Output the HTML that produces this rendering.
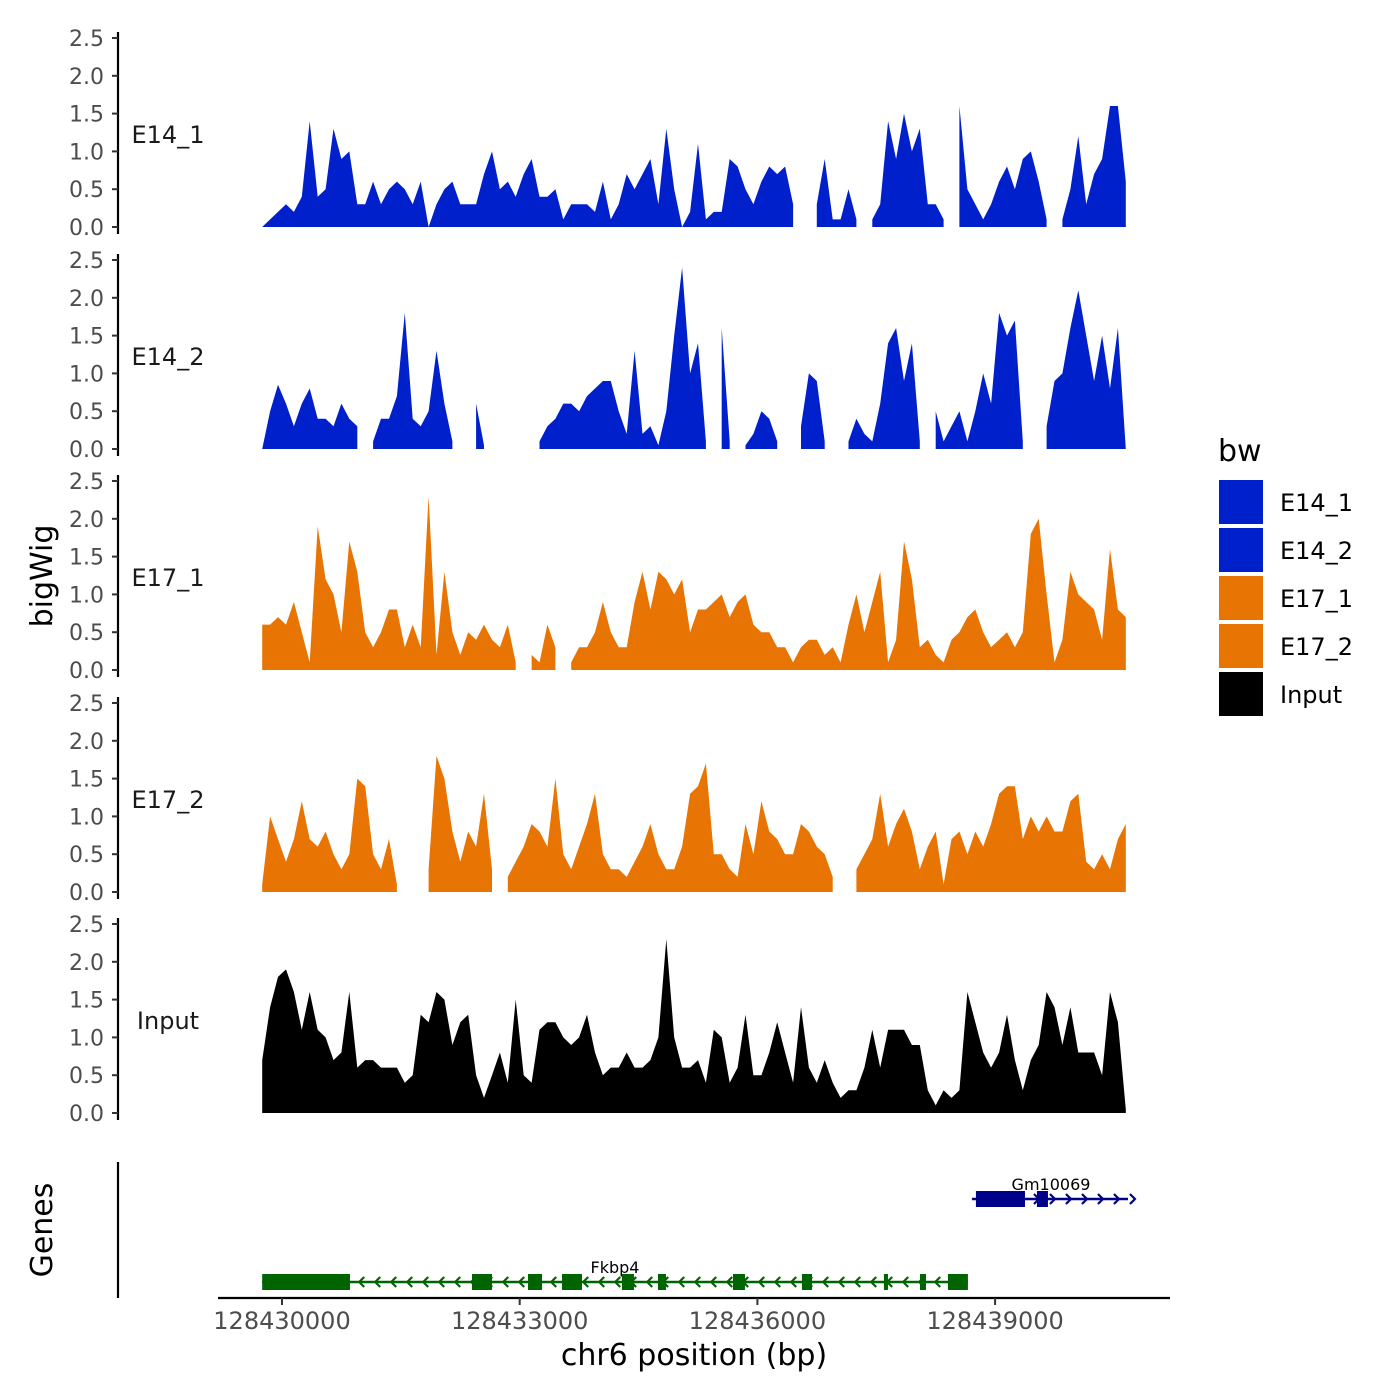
<!DOCTYPE html>
<html><head><meta charset="utf-8"><style>
html,body{margin:0;padding:0;background:#fff;}
svg{display:block;font-family:"DejaVu Sans","Liberation Sans",sans-serif;}
</style></head><body>
<svg id="chart" width="1400" height="1400" viewBox="0 0 1400 1400" xmlns="http://www.w3.org/2000/svg">
<rect width="1400" height="1400" fill="#fff"/>
<g id="panels"></g>
<g id="genes"></g>
<text x="0" y="0" transform="translate(52,576) rotate(-90)" text-anchor="middle" font-size="30" fill="#000">bigWig</text>
<text x="0" y="0" transform="translate(52,1230) rotate(-90)" text-anchor="middle" font-size="30" fill="#000">Genes</text>
<text x="694" y="1365" text-anchor="middle" font-size="30" fill="#000">chr6 position (bp)</text>
<g id="legend">
<text x="1218" y="461" font-size="30" fill="#000">bw</text>
</g>
</svg>
<script>
const startBp = 128429750, stepBp = 100;
const xTicks = [128430000,128433000,128436000,128439000];
const yTicks = [0,0.5,1,1.5,2,2.5];
const trackNames = ["E14_1","E14_2","E17_1","E17_2","Input"];
const trackColors = ["#0020CC","#0020CC","#E87503","#E87503","#000000"];
const N = null;
const e14_1 = [0,0.1,0.2,0.3,0.2,0.4,1.4,0.4,0.5,1.3,0.9,1.0,0.3,0.3,0.6,0.3,0.5,0.6,0.5,0.3,0.6,0.0,0.3,0.5,0.6,0.3,0.3,0.3,0.7,1.0,0.5,0.6,0.4,0.7,0.9,0.4,0.4,0.5,0.1,0.3,0.3,0.3,0.2,0.6,0.1,0.3,0.7,0.5,0.7,0.9,0.3,1.3,0.5,0.0,0.2,1.1,0.1,0.2,0.2,0.9,0.8,0.5,0.3,0.6,0.8,0.7,0.8,0.3,N,N,0.3,0.9,0.1,0.1,0.5,0.1,N,0.1,0.3,1.4,0.9,1.5,1.0,1.3,0.3,0.3,0.1,N,1.6,0.5,0.3,0.1,0.3,0.6,0.8,0.5,0.9,1.0,0.6,0.1,N,0.1,0.5,1.2,0.3,0.7,0.9,1.6,1.6,0.6];
const e14_2 = [0,0.5,0.85,0.6,0.3,0.6,0.8,0.4,0.4,0.3,0.6,0.4,0.3,N,0.1,0.4,0.4,0.7,1.8,0.4,0.3,0.5,1.3,0.6,0.1,N,N,0.6,0.05,N,N,N,N,N,N,0.1,0.3,0.4,0.6,0.6,0.5,0.7,0.8,0.9,0.9,0.5,0.2,1.3,0.2,0.3,0.05,0.5,1.5,2.4,1.0,1.4,0.1,N,1.6,0.1,N,0.05,0.2,0.5,0.4,0.1,N,N,0.3,1.0,0.9,0.1,N,N,0.1,0.4,0.2,0.1,0.6,1.4,1.6,0.9,1.4,0.1,N,0.5,0.1,0.3,0.5,0.1,0.5,1.0,0.6,1.8,1.5,1.7,0.1,N,N,0.3,0.9,1.0,1.6,2.1,1.5,0.9,1.5,0.8,1.6,0];
const e17_1 = [0.6,0.6,0.7,0.6,0.9,0.5,0.1,1.9,1.2,1.0,0.5,1.7,1.3,0.5,0.3,0.5,0.8,0.8,0.3,0.6,0.3,2.3,0.2,1.3,0.5,0.2,0.5,0.4,0.6,0.4,0.3,0.6,0.1,N,0.2,0.1,0.6,0.3,N,0.1,0.3,0.3,0.5,0.9,0.5,0.3,0.3,0.9,1.3,0.8,1.3,1.2,1.0,1.2,0.5,0.8,0.8,0.9,1.0,0.7,0.9,1.0,0.6,0.5,0.5,0.3,0.3,0.1,0.3,0.4,0.4,0.2,0.3,0.1,0.6,1.0,0.5,0.9,1.3,0.1,0.4,1.7,1.2,0.3,0.4,0.2,0.1,0.4,0.5,0.7,0.8,0.5,0.3,0.4,0.5,0.3,0.5,1.8,2.0,1.0,0.1,0.4,1.3,1.0,0.9,0.8,0.4,1.6,0.8,0.7];
const e17_2 = [0.1,1.0,0.7,0.4,0.7,1.2,0.7,0.6,0.8,0.5,0.3,0.5,1.5,1.4,0.5,0.3,0.7,0.1,N,N,N,0.3,1.8,1.5,0.8,0.4,0.8,0.6,1.3,0.3,N,0.2,0.4,0.6,0.9,0.8,0.6,1.5,0.5,0.3,0.6,0.9,1.3,0.5,0.3,0.3,0.2,0.4,0.6,0.9,0.5,0.3,0.3,0.6,1.3,1.4,1.7,0.5,0.5,0.3,0.2,0.9,0.5,1.2,0.8,0.7,0.5,0.5,0.9,0.8,0.6,0.5,0.2,N,N,0.3,0.5,0.7,1.3,0.6,0.9,1.1,0.8,0.3,0.6,0.8,0.1,0.7,0.8,0.5,0.8,0.6,0.9,1.3,1.4,1.4,0.7,1.0,0.8,1.0,0.8,0.8,1.2,1.3,0.4,0.3,0.5,0.3,0.7,0.9];
const input = [0.7,1.4,1.8,1.9,1.6,1.1,1.6,1.1,1.0,0.7,0.8,1.6,0.6,0.7,0.7,0.6,0.6,0.6,0.4,0.5,1.3,1.2,1.6,1.5,0.9,1.2,1.3,0.5,0.2,0.5,0.8,0.4,1.5,0.5,0.4,1.1,1.2,1.2,1.0,0.9,1.0,1.3,0.8,0.5,0.6,0.6,0.8,0.6,0.6,0.7,1.0,2.3,1.0,0.6,0.6,0.7,0.4,1.1,1.0,0.4,0.6,1.3,0.5,0.5,0.8,1.2,0.8,0.4,1.4,0.6,0.4,0.7,0.4,0.2,0.3,0.3,0.6,1.1,0.6,1.1,1.1,1.1,0.9,0.9,0.3,0.1,0.3,0.2,0.3,1.6,1.2,0.8,0.6,0.8,1.3,0.7,0.3,0.7,0.9,1.6,1.4,0.9,1.4,0.8,0.8,0.8,0.5,1.6,1.2,0.05];
const seriesList = [e14_1,e14_2,e17_1,e17_2,input];
const geneNames = ["Fkbp4","Gm10069"];
const geneStart = [128429750,128438708];
const geneEnd = [128438657,128440677];
const geneStrand = [-1,1];
const fkbp4ExonStart = [128429750,128432398,128433105,128433534,128434291,128434745,128435692,128436562,128437597,128438052,128438405];
const fkbp4ExonEnd = [128430858,128432650,128433282,128433786,128434442,128434846,128435843,128436689,128437648,128438128,128438657];
const gmExonStart = [128438758,128439528];
const gmExonEnd = [128439377,128439667];

const NS="http://www.w3.org/2000/svg";
function mk(tag,attrs,parent){const e=document.createElementNS(NS,tag);for(const k in attrs)e.setAttribute(k,attrs[k]);parent.appendChild(e);return e;}
const xScale = bp => 282 + (bp-128430000)*(237.7/3000);
const baselines=[227,449,670,892,1113];
const pxPerUnit=75.6;
const panels=document.getElementById('panels');
trackNames.forEach((name,t)=>{
  const g=mk('g',{},panels);
  
  
  const b=baselines[t];
  const yS=v=>b-v*pxPerUnit;
  const data=seriesList[t];
  let seg=[];
  const segs=[];
  data.forEach((v,i)=>{ if(v===null){ if(seg.length)segs.push(seg); seg=[]; } else seg.push([xScale(startBp+i*stepBp),yS(v)]); });
  if(seg.length)segs.push(seg);
  segs.forEach(s=>{
    let d='M'+s[0][0].toFixed(1)+','+b;
    s.forEach(p=>d+=' L'+p[0].toFixed(1)+','+p[1].toFixed(1));
    d+=' L'+s[s.length-1][0].toFixed(1)+','+b+' Z';
    const p=mk('path',{d:d,fill:trackColors[t]},g);
    
    
  });
  const ax=mk('line',{x1:118,x2:118,y1:yS(2.5)-6,y2:b+7,stroke:'#000','stroke-width':2.2},g);
  
  
  yTicks.forEach(v=>{
    mk('line',{x1:112,x2:118,y1:yS(v),y2:yS(v),stroke:'#333','stroke-width':2},g);
    const tx=mk('text',{x:104,y:yS(v)+8,'text-anchor':'end','font-size':22,fill:'#4d4d4d'},g);
    tx.textContent=v.toFixed(1);
    
    
  });
  const lb=mk('text',{x:168,y:b-84,'text-anchor':'middle','font-size':24,fill:'#1a1a1a'},g);
  lb.textContent=name;
  
  
});
const gg=document.getElementById('genes');
mk('line',{x1:118,x2:118,y1:1162,y2:1298,stroke:'#000','stroke-width':2.2},gg);
mk('line',{x1:218,x2:1170,y1:1298,y2:1298,stroke:'#000','stroke-width':2.2},gg);
xTicks.forEach(v=>{
  mk('line',{x1:xScale(v),x2:xScale(v),y1:1298,y2:1305,stroke:'#333','stroke-width':2},gg);
  const t=mk('text',{x:xScale(v),y:1329,'text-anchor':'middle','font-size':24,fill:'#4d4d4d'},gg);
  t.textContent=String(v);
  
  
});
function drawGene(k,y,color,es,ee){
  const g=mk('g',{},gg);
  
  
  const x0=xScale(geneStart[k]),x1=xScale(geneEnd[k]);
  mk('line',{x1:x0,x2:x1,y1:y,y2:y,stroke:color,'stroke-width':2.5},g);
  for(let x=x0+10;x<x1-2;x+=16){
    const s=geneStrand[k];
    mk('polyline',{points:(x+4*s)+','+(y-5)+' '+(x+9*s)+','+y+' '+(x+4*s)+','+(y+5),fill:'none',stroke:color,'stroke-width':2.2},g);
  }
  es.forEach((s,i)=>{
    const a=xScale(s),b=xScale(ee[i]);
    mk('rect',{x:a,y:y-8,width:Math.max(b-a,3),height:16,fill:color},g);
  });
  const t=mk('text',{x:(k==0?615:1051),y:y-9,'text-anchor':'middle','font-size':16,fill:'#000'},g);
  t.textContent=geneNames[k];
  
  
}
drawGene(0,1282,'#006400',fkbp4ExonStart,fkbp4ExonEnd);
drawGene(1,1199,'#00008B',gmExonStart,gmExonEnd);
const lg=document.getElementById('legend');
const legNames=["E14_1","E14_2","E17_1","E17_2","Input"];
legNames.forEach((n,i)=>{
  const r=mk('rect',{x:1219,y:480+i*48,width:44,height:44,fill:trackColors[i]},lg);
  
  
  const t=mk('text',{x:1280,y:511+i*48,'font-size':24,fill:'#000'},lg);
  t.textContent=n;
  
  
});
</script>
</body></html>
